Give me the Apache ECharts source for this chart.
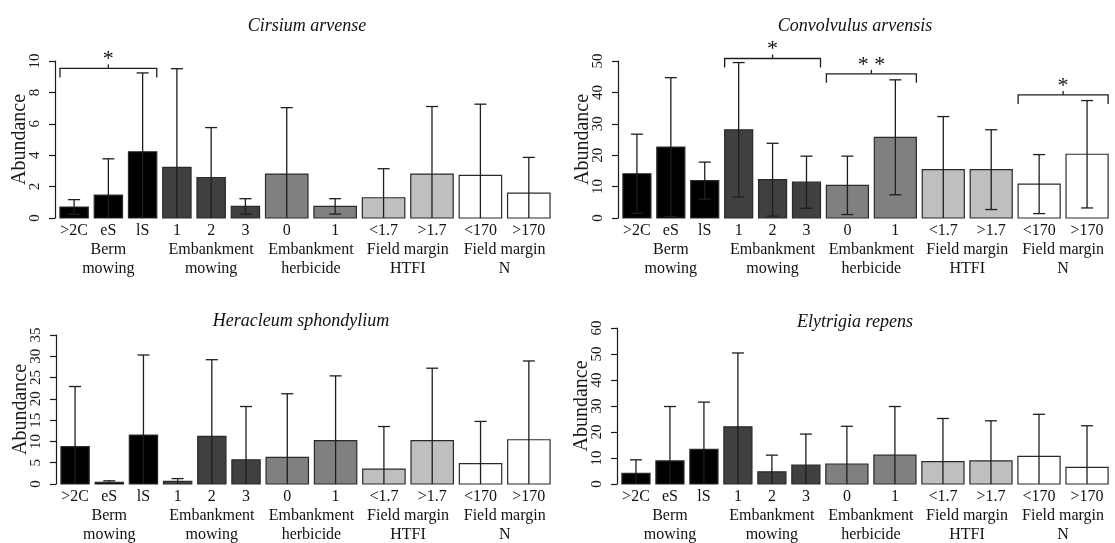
<!DOCTYPE html>
<html>
<head>
<meta charset="utf-8">
<script src="https://cdn.jsdelivr.net/npm/echarts@6/dist/echarts.min.js"></script>
<style>
  html, body { margin: 0; padding: 0; background: #fff; }
  #chart { width: 1115px; height: 543px; }
</style>
</head>
<body>
<div id="chart"></div>
<script>
// ---------------- data ----------------
const categories = ['>2C', 'eS', 'lS', '1', '2', '3', '0', '1', '<1.7', '>1.7', '<170', '>170'];
const groupNames = ['Berm\nmowing', 'Embankment\nmowing', 'Embankment\nherbicide', 'Field margin\nHTFI', 'Field margin\nN'];
const groupOf = [0, 0, 0, 1, 1, 1, 2, 2, 3, 3, 4, 4];
const barWidths = [2, 2, 2, 2, 2, 2, 3, 3, 3, 3, 3, 3];

const cirsiumMean = [0.70, 1.46, 4.22, 3.22, 2.58, 0.74, 2.80, 0.74, 1.29, 2.80, 2.71, 1.59];
const cirsiumSD   = [0.47, 2.31, 5.02, 6.29, 3.18, 0.49, 4.23, 0.49, 1.85, 4.30, 4.54, 2.27];
const cirsiumTicks = [0, 10, 2];
const cirsiumBrackets = [[0, 2, 9.53, '*']];

const convolvulusMean = [14.1, 22.6, 11.9, 28.1, 12.2, 11.4, 10.4, 25.7, 15.4, 15.4, 10.8, 20.3];
const convolvulusSD   = [12.6, 22.1, 5.9, 21.4, 11.6, 8.3, 9.3, 18.3, 16.9, 12.7, 9.4, 17.1];
const convolvulusTicks = [0, 50, 10];
const convolvulusBrackets = [[3, 5, 50.8, '*'], [6, 7, 45.9, '* *'], [10, 11, 39.2, '*']];

const heracleumMean = [8.8, 0.37, 11.5, 0.6, 11.2, 5.7, 6.25, 10.2, 3.5, 10.2, 4.8, 10.4];
const heracleumSD   = [14.1, 0.38, 18.8, 0.67, 18.0, 12.5, 14.95, 15.2, 10.0, 17.0, 9.9, 18.5];
const heracleumTicks = [0, 35, 5];
const heracleumBrackets = [];

const elytrigiaMean = [4.1, 8.9, 13.3, 22.0, 4.7, 7.3, 7.7, 11.1, 8.6, 8.9, 10.6, 6.4];
const elytrigiaSD   = [5.2, 20.9, 18.2, 28.4, 6.4, 11.9, 14.5, 18.7, 16.6, 15.4, 16.2, 16.0];
const elytrigiaTicks = [0, 60, 10];
const elytrigiaBrackets = [];

const titles = ['Cirsium arvense', 'Convolvulus arvensis', 'Heracleum sphondylium', 'Elytrigia repens'];

// ---------------- layout / style ----------------
const FONT = "'Liberation Serif', 'DejaVu Serif', serif";
const groupColors = ['#000000', '#404040', '#808080', '#bfbfbf', '#ffffff'];
const GAP = 0.42, LEAD = 0.35;
const barStart = [];
(function () {
  let x = LEAD;
  for (let i = 0; i < barWidths.length; i++) { barStart.push(x); x += barWidths[i] + GAP; }
})();
const XMAX = barStart[barStart.length - 1] + barWidths[barWidths.length - 1] + LEAD;

const grids = [
  { left: 55, top: 61, width: 500, height: 157 },
  { left: 618, top: 61, width: 495, height: 157 },
  { left: 56, top: 335, width: 499, height: 149 },
  { left: 617, top: 328, width: 496, height: 156 }
];
const titlePos = [[302, 12], [850, 12], [296, 307], [850, 308]];

const panels = [
  { mean: cirsiumMean, sd: cirsiumSD, ticks: cirsiumTicks, brackets: cirsiumBrackets },
  { mean: convolvulusMean, sd: convolvulusSD, ticks: convolvulusTicks, brackets: convolvulusBrackets },
  { mean: heracleumMean, sd: heracleumSD, ticks: heracleumTicks, brackets: heracleumBrackets },
  { mean: elytrigiaMean, sd: elytrigiaSD, ticks: elytrigiaTicks, brackets: elytrigiaBrackets }
];

const LINE = '#1e1e1e';
const CAP = 6;

function barRender(params, api) {
  const i = api.value(0), m = api.value(1), s = api.value(2);
  const x0 = barStart[i], w = barWidths[i];
  const pBase = api.coord([x0, 0]);
  const pTop = api.coord([x0 + w, m]);
  const cx = api.coord([x0 + w / 2, 0])[0];
  const yUp = api.coord([0, m + s])[1];
  const lowVal = m - s;
  const yLow = api.coord([0, Math.max(0, lowVal)])[1];
  const children = [];
  children.push({
    type: 'rect',
    shape: { x: pBase[0], y: pTop[1], width: pTop[0] - pBase[0], height: pBase[1] - pTop[1] },
    style: { fill: groupColors[groupOf[i]], stroke: '#2a2a2a', lineWidth: 1.2 }
  });
  children.push({ type: 'line', shape: { x1: cx, y1: yUp, x2: cx, y2: yLow }, style: { stroke: LINE, lineWidth: 1.3 } });
  children.push({ type: 'line', shape: { x1: cx - CAP, y1: yUp, x2: cx + CAP, y2: yUp }, style: { stroke: LINE, lineWidth: 1.3 } });
  if (lowVal > 0.05) {
    children.push({ type: 'line', shape: { x1: cx - CAP, y1: yLow, x2: cx + CAP, y2: yLow }, style: { stroke: LINE, lineWidth: 1.3 } });
  }
  // category label
  children.push({
    type: 'text',
    style: {
      text: categories[i], x: cx, y: pBase[1] + 13,
      align: 'center', verticalAlign: 'middle', textAlign: 'center', textVerticalAlign: 'middle',
      fill: '#111', fontSize: 16, fontFamily: FONT
    }
  });
  // group label (drawn once per group, centered on the group)
  const g = groupOf[i];
  if (i === 0 || groupOf[i - 1] !== g) {
    let last = i;
    while (last + 1 < groupOf.length && groupOf[last + 1] === g) last++;
    const gx = api.coord([(barStart[i] + barStart[last] + barWidths[last]) / 2, 0])[0];
    children.push({
      type: 'text',
      style: {
        text: groupNames[g], x: gx, y: pBase[1] + 22,
        align: 'center', verticalAlign: 'top', textAlign: 'center', textVerticalAlign: 'top',
        fill: '#111', fontSize: 16, lineHeight: 19, fontFamily: FONT
      }
    });
  }
  return { type: 'group', children: children };
}

function bracketRender(params, api) {
  const from = api.value(0), to = api.value(1), y = api.value(2);
  const label = api.value(3);
  const pl = api.coord([barStart[from], y]);
  const pr = api.coord([barStart[to] + barWidths[to], y]);
  const cx = (pl[0] + pr[0]) / 2;
  const drop = 9;
  return {
    type: 'group',
    children: [
      { type: 'polyline', shape: { points: [[pl[0], pl[1] + drop], [pl[0], pl[1]], [pr[0], pl[1]], [pr[0], pl[1] + drop]] },
        style: { stroke: LINE, lineWidth: 1.3, fill: null } },
      { type: 'line', shape: { x1: cx, y1: pl[1], x2: cx, y2: pl[1] - 4 }, style: { stroke: LINE, lineWidth: 1.3 } },
      { type: 'text', style: { text: String(label), x: cx, y: pl[1] - 9,
        align: 'center', verticalAlign: 'middle', textAlign: 'center', textVerticalAlign: 'middle',
        fill: '#111', fontSize: 22, fontFamily: FONT } }
    ]
  };
}

const option = {
  animation: false,
  backgroundColor: '#ffffff',
  title: titles.map((t, k) => ({
    text: t, left: titlePos[k][0], top: titlePos[k][1], textAlign: 'center',
    textStyle: { fontFamily: FONT, fontStyle: 'italic', fontWeight: 'normal', fontSize: 18, color: '#111' }
  })),
  grid: grids,
  xAxis: grids.map((g, k) => ({ type: 'value', gridIndex: k, min: 0, max: XMAX, show: false })),
  yAxis: panels.map((p, k) => ({
    type: 'value', gridIndex: k, min: p.ticks[0], max: p.ticks[1], interval: p.ticks[2],
    name: 'Abundance', nameLocation: 'middle', nameRotate: 90, nameGap: 25, nameMoveOverlap: false,
    nameTextStyle: { fontFamily: FONT, fontSize: 20, color: '#1a1a1a' },
    axisLine: { show: true, lineStyle: { color: '#1a1a1a', width: 1.2 } },
    axisTick: { show: true, inside: false, length: 6, lineStyle: { color: '#1a1a1a', width: 1.2 } },
    axisLabel: { rotate: 90, margin: 12, fontFamily: FONT, fontSize: 15, color: '#1a1a1a' },
    splitLine: { show: false }
  })),
  series: []
};

panels.forEach((p, k) => {
  option.series.push({
    type: 'custom', xAxisIndex: k, yAxisIndex: k, clip: false,
    renderItem: barRender,
    data: p.mean.map((m, i) => [i, m, p.sd[i]])
  });
  if (p.brackets.length) {
    option.series.push({
      type: 'custom', xAxisIndex: k, yAxisIndex: k, clip: false,
      renderItem: bracketRender,
      dimensions: ['from', 'to', 'y', { name: 'label', type: 'ordinal' }],
      data: p.brackets.map(b => [b[0], b[1], b[2], b[3]])
    });
  }
});

const chart = echarts.init(document.getElementById('chart'), null, { renderer: 'canvas' });
chart.setOption(option);
</script>
</body>
</html>
